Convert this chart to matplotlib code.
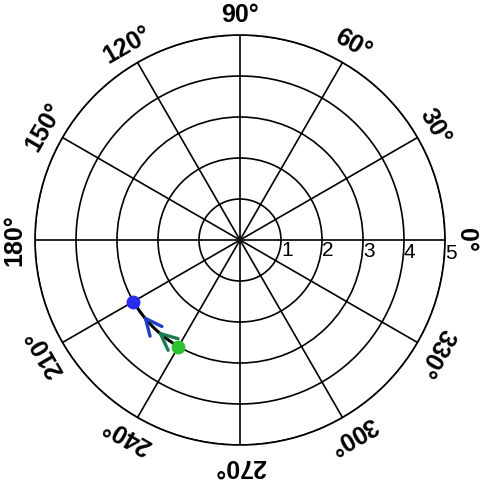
import matplotlib
matplotlib.use("Agg")
import matplotlib.pyplot as plt
import numpy as np

plt.rcParams['font.family'] = ['Liberation Sans', 'DejaVu Sans']

# data
theta_deg = [240, 210]          # start (green) -> end (blue)
r_vals = [3, 3]
arrow_pos = [(222, 216.5), (232, 226.5)]   # (tail, tip) of the chevrons, degrees
arrow_cols = ['#1d3fc0', '#1b7a52']
angle_ticks = list(range(0, 360, 30))
r_ticks = [1, 2, 3, 4, 5]

fig = plt.figure(figsize=(4.8, 4.8), dpi=100)
ax = fig.add_axes([35/480, 35/480, 410/480, 410/480], projection='polar')
ax.set_ylim(0, 5)

ax.set_thetagrids(angle_ticks, labels=[''] * len(angle_ticks))
ax.set_rgrids(r_ticks, labels=[str(r) for r in r_ticks], angle=-1,
              fontsize=15, ha='left', va='top')
ax.grid(color='black', linewidth=1.2)
ax.spines['polar'].set_color('black')
ax.spines['polar'].set_linewidth(1.2)
ax.tick_params(axis='y', pad=0)

for a in angle_ticks:
    ax.text(np.deg2rad(a), 5.5, f"{a}\u00b0", rotation=a - 90,
            ha='center', va='center', rotation_mode='anchor',
            fontsize=18, fontweight='bold', clip_on=False)

# path along the arc
th = np.deg2rad(np.linspace(theta_deg[0], theta_deg[1], 50))
ax.plot(th, np.full_like(th, r_vals[0]), color='black', lw=2.2, zorder=3)

for (t0, t1), c in zip(arrow_pos, arrow_cols):
    ax.annotate('', xy=(np.deg2rad(t1), 3), xytext=(np.deg2rad(t0), 3),
                arrowprops=dict(arrowstyle='->,head_length=1.2,head_width=0.55',
                                color=c, lw=2.4), zorder=4)

ax.plot(np.deg2rad(theta_deg[1]), r_vals[1], 'o', color='#2a2af0', ms=9, zorder=5)
ax.plot(np.deg2rad(theta_deg[0]), r_vals[0], 'o', color='#2ec02e', ms=9, zorder=5)

fig.savefig('out.png', dpi=100)
